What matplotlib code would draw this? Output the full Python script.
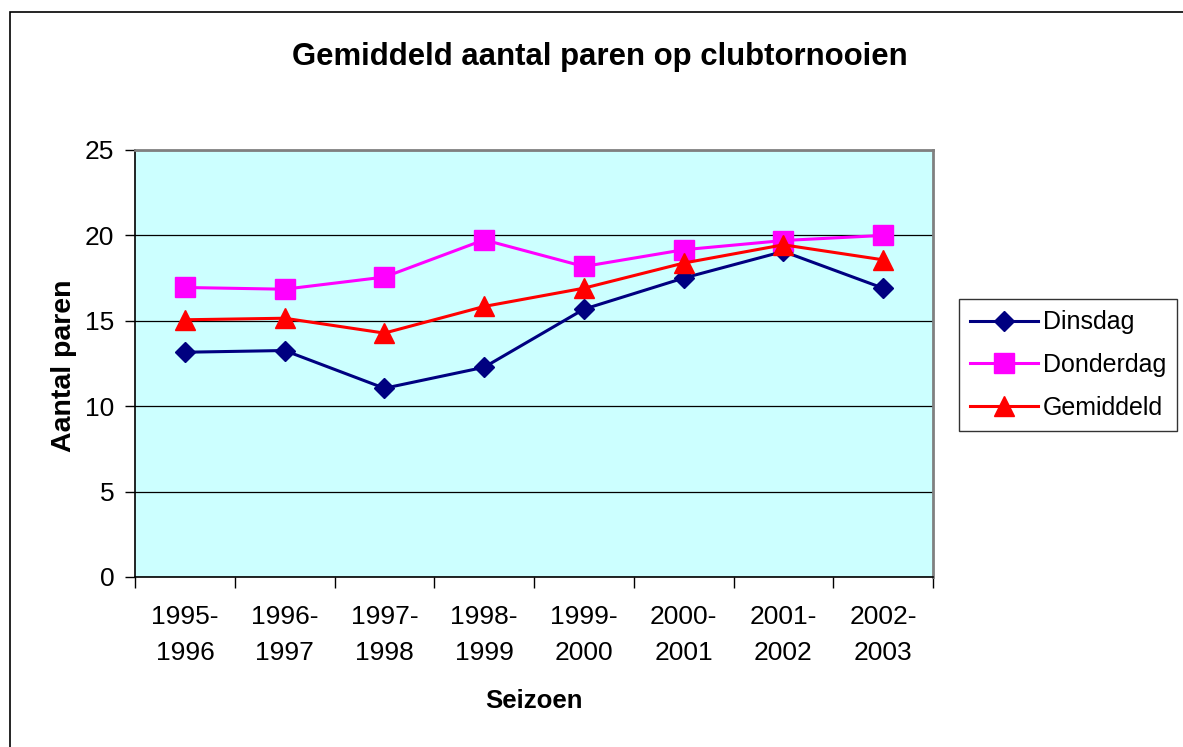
import numpy as np
import matplotlib
matplotlib.use('Agg')
import matplotlib.pyplot as plt
from matplotlib.patches import Rectangle

plt.rcParams['font.family'] = ['Liberation Sans', 'DejaVu Sans']

# data
seasons = ['1995-\n1996', '1996-\n1997', '1997-\n1998', '1998-\n1999',
           '1999-\n2000', '2000-\n2001', '2001-\n2002', '2002-\n2003']
dinsdag = [13.16, 13.26, 11.05, 12.28, 15.68, 17.50, 19.06, 16.91]
donderdag = [16.95, 16.85, 17.56, 19.74, 18.18, 19.16, 19.70, 20.0]
gemiddeld = [15.06, 15.15, 14.28, 15.84, 16.91, 18.38, 19.45, 18.57]
yticks = [0, 5, 10, 15, 20, 25]

W, H = 1183, 747
fig = plt.figure(figsize=(W / 100, H / 100), dpi=100)
ax = fig.add_axes([135 / W, 1 - 577 / H, (933 - 135) / W, (577 - 150) / H])
ax.set_facecolor('#CCFFFF')

# outer chart frame
fig.patches.append(Rectangle((10 / W, -0.05), 1.2, 1 - 12 / H + 0.05,
                             transform=fig.transFigure, fill=False,
                             edgecolor='black', linewidth=1.2, zorder=0))

x = np.arange(len(seasons))
ax.plot(x, dinsdag, color='#000080', lw=2.2, marker='D', ms=10,
        mec='#000080', label='Dinsdag', zorder=3)
ax.plot(x, donderdag, color='#FF00FF', lw=2.2, marker='s', ms=14,
        mec='#FF00FF', label='Donderdag', zorder=3)
ax.plot(x, gemiddeld, color='#FF0000', lw=2.2, marker='^', ms=14.5,
        mec='#FF0000', label='Gemiddeld', zorder=3)

ax.set_xlim(-0.5, len(seasons) - 0.5)
ax.set_ylim(0, 25)
ax.set_yticks(yticks)
ax.tick_params(axis='y', labelsize=19, length=7, width=1, pad=8)
ax.yaxis.grid(True, color='black', linewidth=0.9)
ax.set_axisbelow(True)

# category ticks between the labels
ax.set_xticks(np.arange(-0.5, len(seasons), 1.0))
ax.set_xticklabels([])
ax.tick_params(axis='x', which='major', length=8, width=1)
ax.set_xticks(x, minor=True)
ax.set_xticklabels(seasons, minor=True, fontsize=19, linespacing=1.65)
ax.tick_params(axis='x', which='minor', length=0, pad=20)

for s in ['top', 'right']:
    ax.spines[s].set_color('#808080')
    ax.spines[s].set_linewidth(2)
for s in ['left', 'bottom']:
    ax.spines[s].set_color('black')
    ax.spines[s].set_linewidth(1.2)

fig.text(600 / W, 1 - 57 / H, 'Gemiddeld aantal paren op clubtornooien',
         ha='center', va='center', fontsize=22.4, fontweight='bold')
fig.text(534 / W, 1 - 701 / H, 'Seizoen', ha='center', va='center',
         fontsize=18.6, fontweight='bold')
fig.text(64 / W, 1 - 366 / H, 'Aantal paren', ha='center', va='center',
         rotation=90, fontsize=20.5, fontweight='bold')

leg = ax.legend(loc='upper left', bbox_to_anchor=(959 / W, 1 - 299 / H),
                bbox_transform=fig.transFigure, borderaxespad=0,
                fontsize=18, frameon=True, fancybox=False, handlelength=2.7,
                labelspacing=0.75, handletextpad=0.2, borderpad=0.45)
leg.get_frame().set_edgecolor('black')
leg.get_frame().set_linewidth(1)

fig.savefig('out.png', dpi=100)
